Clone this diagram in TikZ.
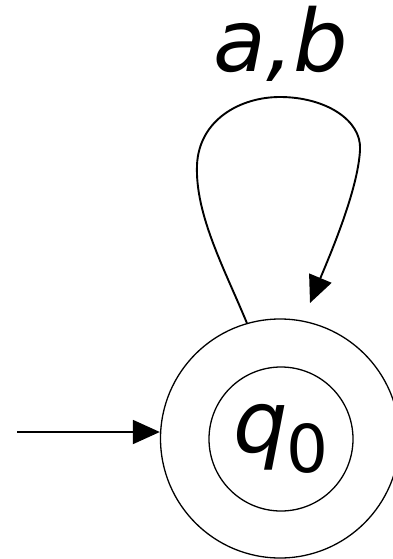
\documentclass[tikz,border=0pt]{standalone}
\usepackage{fontspec}
\setmainfont{DejaVu Sans}
\usetikzlibrary{arrows.meta,positioning}

\begin{document}
\begin{tikzpicture}[x=1pt,y=-1pt,>={Triangle[length=27pt,width=24pt]},
    state/.style={draw=black, circle, line width=1.3pt, inner sep=0pt},
    edge/.style={line width=1.9pt, ->},
    lbl/.style={font=\fontsize{86}{86}\selectfont\itshape}]
  \useasboundingbox (0,0) rectangle (393,559);
  \clip (0,0) rectangle (393,559);
  % ---- state ----
  \node[state, minimum size=239pt] (q0) at (280,438.5) {};
  \node[state, minimum size=144pt, lbl] (q0in) at (281,439)
    {q\kern-2pt\raisebox{-20pt}{\fontsize{66}{66}\selectfont\upshape 0}};
  % ---- transitions ----
  \coordinate (start) at (17,432);
  \coordinate (looptip) at (310,303);
  \draw[edge] (start) -- (q0.west |- start);
  \draw[edge] (q0.106) .. controls (225,270) and (195,215) .. (197,165)
    .. controls (199,120) and (240,97) .. (280,97)
    .. controls (325,97) and (362,120) .. (360,150)
    .. controls (358,190) and (330,255) .. (looptip);
  \node[lbl, anchor=base] (loopl) at (281,72) {a,b};
\end{tikzpicture}
\end{document}
